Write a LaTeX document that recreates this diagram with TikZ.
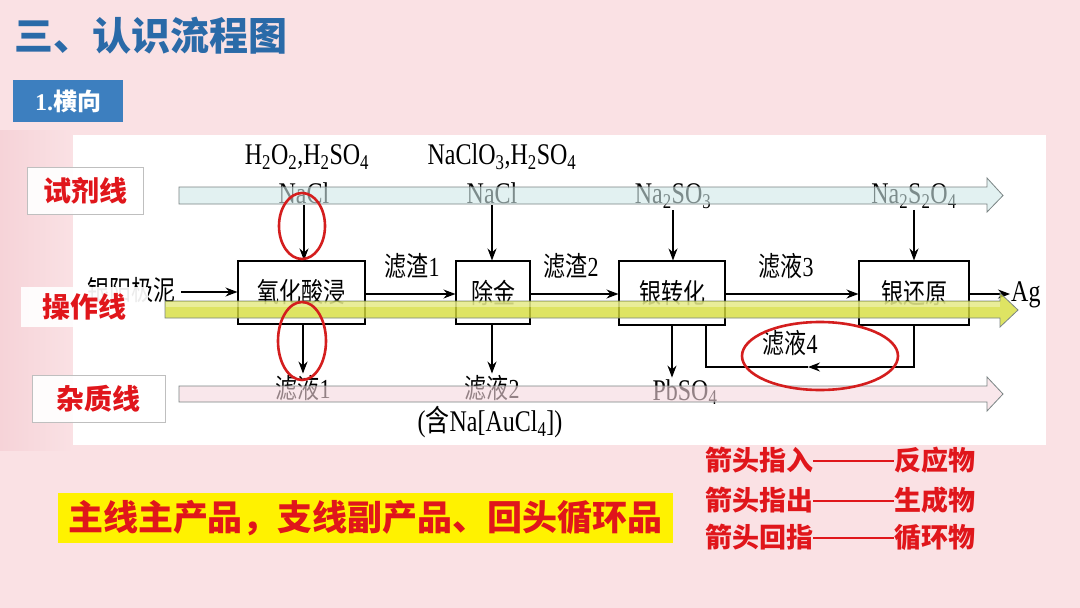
\documentclass[tikz,border=0pt]{standalone}
\usepackage{fontspec}
\usepackage{graphicx}
\setmainfont{Liberation Serif}
\newfontfamily\cjk{Noto Sans CJK SC}
\usetikzlibrary{arrows.meta,calc}

\definecolor{bgpink}{HTML}{FAE1E4}
\definecolor{leftpink}{HTML}{F6D3D8}
\definecolor{titleblue}{HTML}{2A6AA8}
\definecolor{headblue}{HTML}{3D7FBF}
\definecolor{redtxt}{HTML}{E0161B}
\definecolor{reagfill}{HTML}{CFE8E8}
\definecolor{opfill}{HTML}{D6DE3C}
\definecolor{impfill}{HTML}{F6D8DE}
\definecolor{bargray}{HTML}{7A8484}
\definecolor{ringred}{HTML}{D41E1E}

\newcommand\sbs[1]{\textsubscript{#1}}
\newcommand\vs[1]{\scalebox{1}[1.25]{#1}}

\tikzset{
  dtext/.style={inner sep=1.5pt, font=\fontsize{24}{26}\selectfont, text=black},
  ctext/.style={inner sep=1.5pt, font=\cjk\fontsize{22}{24}\selectfont, text=black},
  pbox/.style={draw=black, line width=1.1pt, fill=white, inner sep=0pt,
               font=\cjk\fontsize{22}{24}\selectfont},
  arr/.style={line width=1.1pt, -{Stealth[length=12pt,width=9pt]}},
  plain/.style={line width=1.1pt},
  lblbox/.style={fill=white, fill opacity=0.92, text opacity=1, inner sep=0pt,
                 text=redtxt, font=\cjk\bfseries\fontsize{28}{30}\selectfont},
  ring/.style={draw=ringred, line width=2.6pt},
  legend/.style={anchor=west, inner sep=0pt, text=redtxt,
                 font=\cjk\bfseries\fontsize{27}{29}\selectfont},
}

\begin{document}
\begin{tikzpicture}[x=1pt,y=-1pt]
\useasboundingbox (0,0) rectangle (1080,608);
% background
\fill[bgpink] (0,0) rectangle (1080,608);
\shade[left color=leftpink, right color=bgpink] (0,130) rectangle (73,450);
\fill[white] (73,135) rectangle (1046,445);

% title and heading
\node[anchor=west, inner sep=0pt, text=titleblue,
      font=\cjk\bfseries\fontsize{39}{42}\selectfont] (title) at (14,36) {三、认识流程图};
\node[fill=headblue, text=white, minimum width=110, minimum height=42, inner sep=0pt,
      font=\bfseries\fontsize{24}{26}\selectfont] (head) at (68,101) {1.{\cjk 横向}};

% reagent texts
\node[dtext] (r1) at (307,157) {\vs{H\sbs{2}O\sbs{2},H\sbs{2}SO\sbs{4}}};
\node[dtext] (r2) at (502,157) {\vs{NaClO\sbs{3},H\sbs{2}SO\sbs{4}}};
\node[dtext] (n1) at (304,193) {\vs{NaCl}};
\node[dtext] (n2) at (492,193) {\vs{NaCl}};
\node[dtext] (n3) at (673,196) {\vs{Na\sbs{2}SO\sbs{3}}};
\node[dtext] (n4) at (914,196) {\vs{Na\sbs{2}S\sbs{2}O\sbs{4}}};

% process boxes
\node[pbox, minimum width=127, minimum height=63] (b1) at (301.5,292.5) {\raisebox{2pt}{\vs{氧化酸浸}}};
\node[pbox, minimum width=74, minimum height=63] (b2) at (493,292.5) {\raisebox{2pt}{\vs{除金}}};
\node[pbox, minimum width=106, minimum height=64] (b3) at (672,293) {\raisebox{2pt}{\vs{银转化}}};
\node[pbox, minimum width=110, minimum height=64] (b4) at (914,293) {\raisebox{2pt}{\vs{银还原}}};

% feed and product
\node[ctext, anchor=east, inner sep=5pt] (feed) at (181,290) {\vs{银阳极泥}};
\node[dtext, anchor=west, inner sep=1pt] (ag) at (1010,295) {\vs{Ag}};

% intermediate labels
\node[ctext] (z1) at (412,266) {\vs{滤渣{\rmfamily 1}}};
\node[ctext] (z2) at (571,266) {\vs{滤渣{\rmfamily 2}}};
\node[ctext] (z3) at (786,266) {\vs{滤液{\rmfamily 3}}};
\node[ctext] (z4) at (790,343) {\vs{滤液{\rmfamily 4}}};

% impurity labels
\node[ctext] (l1) at (303,388) {\vs{滤液{\rmfamily 1}}};
\node[ctext] (l2) at (492,388) {\vs{滤液{\rmfamily 2}}};
\node[dtext] (l2b) at (490,422) {\vs{({\cjk 含}Na[AuCl\sbs{4}])}};
\node[dtext] (pb) at (685,392) {\vs{PbSO\sbs{4}}};

% connectors
\draw[arr] (n1.south) -- (n1.south |- b1.north);
\draw[arr] (n2.south) -- (n2.south |- b2.north);
\draw[arr] (n3.south) -- (n3.south |- b3.north);
\draw[arr] (n4.south) -- (n4.south |- b4.north);

\draw[arr] (feed.east |- 0,292) -- (b1.west |- 0,292);
\draw[arr] (b1.east |- 0,294) -- (b2.west |- 0,294);
\draw[arr] (b2.east |- 0,294) -- (b3.west |- 0,294);
\draw[arr] (b3.east |- 0,294) -- (b4.west |- 0,294);
\draw[arr] (b4.east |- 0,294) -- (ag.west |- 0,294);

\draw[arr] (l1.north |- b1.south) -- (l1.north);
\draw[arr] (l2.north |- b2.south) -- (l2.north);
\draw[arr] (b3.south) -- (b3.south |- pb.north);

\coordinate (loopL) at (706,367);
\coordinate (loopM) at (808,367);
\draw[arr] (b4.south) |- (loopM);
\draw[plain] (loopM) -- (loopL) -- (loopL |- b3.south);

% translucent line bars
\filldraw[draw=bargray, line width=0.8pt, fill=reagfill, fill opacity=0.6]
  (179,187) -- (987,187) -- (987,178) -- (1003,195.5) -- (987,212) -- (987,204) -- (179,204) -- cycle;
\filldraw[draw=bargray, line width=0.8pt, fill=opfill, fill opacity=0.8]
  (165,301) -- (1000,301) -- (1000,293) -- (1018,310) -- (1000,327) -- (1000,318) -- (165,318) -- cycle;
\fill[white, fill opacity=0.35] (166,302) rectangle (1000,307);
\filldraw[draw=bargray, line width=0.8pt, fill=impfill, fill opacity=0.6]
  (179,386) -- (987,386) -- (987,377) -- (1003,394) -- (987,411) -- (987,402) -- (179,402) -- cycle;

% line labels
\node[lblbox, draw=black!25, minimum width=116, minimum height=47] (lab1) at (85,190.5) {试剂线};
\node[lblbox, minimum width=127, minimum height=40] (lab2) at (84.5,307) {\raisebox{-3pt}{操作线}};
\node[lblbox, draw=black!25, minimum width=133, minimum height=47] (lab3) at (98.5,398.5) {杂质线};

% red rings
\draw[ring] (302,226) ellipse [x radius=23pt, y radius=33pt];
\draw[ring] (302,341) ellipse [x radius=24pt, y radius=39pt];
\draw[ring] (820,356) ellipse [x radius=78pt, y radius=34pt];

% banner
\node[fill=yellow, text=redtxt, minimum width=615, minimum height=50, inner sep=0pt,
      font=\cjk\bfseries\fontsize{35}{37}\selectfont] (banner) at (365.5,518) {主线主产品，支线副产品、回头循环品};

% legend
\node[legend] (g1) at (705,460) {箭头指入\rule[0.32em]{81pt}{1.6pt}反应物};
\node[legend] (g2) at (705,500) {箭头指出\rule[0.32em]{81pt}{1.6pt}生成物};
\node[legend] (g3) at (705,537) {箭头回指\rule[0.32em]{81pt}{1.6pt}循环物};
\end{tikzpicture}
\end{document}
